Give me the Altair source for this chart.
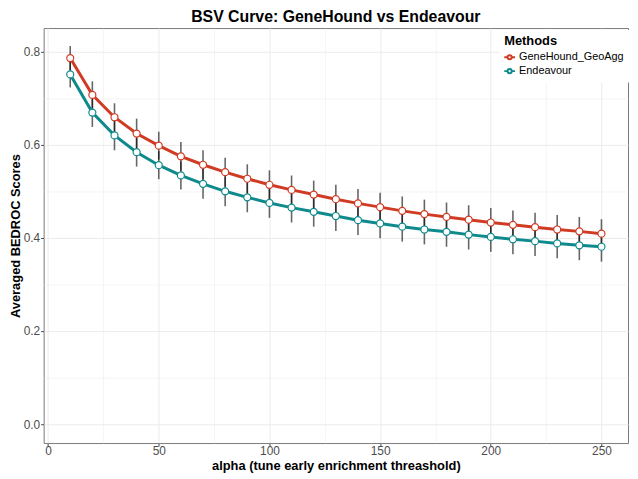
import altair as alt
import pandas as pd

alphas = list(range(10, 260, 10))
methods = ["GeneHound_GeoAgg", "Endeavour"]
genehound = [0.786, 0.707, 0.659, 0.624, 0.598, 0.575, 0.557, 0.541, 0.527, 0.514,
             0.503, 0.493, 0.483, 0.474, 0.466, 0.458, 0.451, 0.445, 0.439, 0.433,
             0.428, 0.423, 0.418, 0.414, 0.409]
endeavour = [0.751, 0.669, 0.620, 0.584, 0.556, 0.534, 0.516, 0.500, 0.487, 0.475,
             0.465, 0.456, 0.447, 0.438, 0.431, 0.424, 0.418, 0.413, 0.407, 0.402,
             0.397, 0.393, 0.388, 0.384, 0.381]
genehound_err = [0.026, 0.029, 0.030, 0.032, 0.030, 0.031, 0.031, 0.031, 0.031, 0.031,
                 0.031, 0.030, 0.031, 0.031, 0.031, 0.031, 0.031, 0.031, 0.031, 0.031,
                 0.031, 0.031, 0.031, 0.031, 0.031]
endeavour_err = [0.028, 0.031, 0.032, 0.031, 0.030, 0.030, 0.032, 0.032, 0.032, 0.032,
                 0.032, 0.032, 0.032, 0.032, 0.032, 0.032, 0.032, 0.032, 0.032, 0.032,
                 0.032, 0.032, 0.032, 0.032, 0.032]
colors = ["#D03B24", "#0E8A8C"]

rows = []
for m, vals, errs in [(methods[0], genehound, genehound_err), (methods[1], endeavour, endeavour_err)]:
    for a, v, e in zip(alphas, vals, errs):
        rows.append({"alpha": a, "score": v, "err": e, "method": m})
df = pd.DataFrame(rows)

FONT = "Liberation Sans"

x_axis = alt.Axis(
    values=list(range(0, 275, 25)),
    labelExpr="datum.value % 50 == 0 ? datum.label : ''",
    tickOpacity={"condition": {"test": "datum.value % 50 == 0", "value": 1}, "value": 0},
    gridWidth={"condition": {"test": "datum.value % 50 == 0", "value": 1}, "value": 0.5},
    title="alpha (tune early enrichment threashold)",
    titlePadding=3, labelPadding=0,
)
y_axis = alt.Axis(
    values=[0, 0.1, 0.2, 0.3, 0.4, 0.5, 0.6, 0.7, 0.8],
    labelExpr="round(datum.value*10) % 2 == 0 ? format(datum.value, '.1f') : ''",
    tickOpacity={"condition": {"test": "round(datum.value*10) % 2 == 0", "value": 1}, "value": 0},
    gridWidth={"condition": {"test": "round(datum.value*10) % 2 == 0", "value": 1}, "value": 0.5},
    title="Averaged BEDROC Scores",
    titlePadding=1, labelPadding=1,
)

xs = alt.Scale(domain=[-2, 262], nice=False, zero=False)
ys = alt.Scale(domain=[-0.0405, 0.8505], nice=False, zero=False)
stroke_scale = alt.Scale(domain=methods, range=colors)

base = alt.Chart(df)

errbars = base.transform_calculate(
    lo="datum.score - datum.err", hi="datum.score + datum.err"
).mark_rule(color="black", opacity=0.6, strokeWidth=1.6).encode(
    x=alt.X("alpha:Q", scale=xs, axis=x_axis),
    y=alt.Y("lo:Q", scale=ys, axis=y_axis),
    y2="hi:Q",
)

lines = base.mark_line(strokeWidth=3).encode(
    x=alt.X("alpha:Q", scale=xs),
    y=alt.Y("score:Q", scale=ys),
    stroke=alt.Stroke("method:N", scale=stroke_scale, sort=methods,
                      legend=alt.Legend(title="Methods")),
)

points = base.mark_point(shape="circle", filled=False, fill="white", fillOpacity=1,
                         size=50, strokeWidth=1.2, opacity=1).encode(
    x=alt.X("alpha:Q", scale=xs),
    y=alt.Y("score:Q", scale=ys),
    stroke=alt.Stroke("method:N", scale=stroke_scale, sort=methods),
)

chart = alt.layer(errbars, lines, points).properties(
    width=590, height=419,
    autosize=alt.AutoSizeParams(type="none"),
    padding={"left": 36, "top": 18, "right": 2, "bottom": 28},
    title=alt.TitleParams("BSV Curve: GeneHound vs Endeavour", fontSize=16,
                          fontWeight="bold", font=FONT, color="black", offset=3,
                          anchor="middle"),
).configure_view(
    stroke="#7a7a7a", strokeWidth=1
).configure_axis(
    domain=False, grid=True, gridColor="#ebebeb",
    tickColor="#444", tickSize=3,
    labelFont=FONT, labelFontSize=12, labelColor="#4d4d4d",
    titleFont=FONT, titleFontSize=13, titleFontWeight="bold", titleColor="black",
).configure_legend(
    orient="none", legendX=460, legendY=2,
    fillColor="white", padding=5,
    titleFont=FONT, titleFontSize=13, titleFontWeight="bold", titleColor="black",
    labelFont=FONT, labelFontSize=11, labelColor="black",
    symbolType="M-1.3,0H-0.5A0.5,0.5 0 1,0 0.5,0A0.5,0.5 0 1,0 -0.5,0M0.5,0H1.3",
    symbolSize=70, symbolStrokeWidth=2, symbolFillColor="white",
    rowPadding=1, titlePadding=4,
)

chart.save("out.html", embed_options={"renderer": "svg", "actions": False})
